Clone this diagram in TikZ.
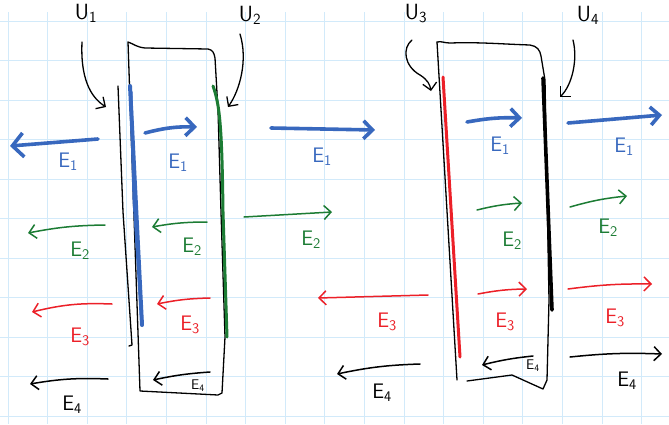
\documentclass[tikz,border=0pt]{standalone}
\usetikzlibrary{arrows.meta}
\definecolor{gridc}{RGB}{210,234,250}
\definecolor{pblue}{RGB}{56,104,190}
\definecolor{pgreen}{RGB}{28,124,52}
\definecolor{pred}{RGB}{236,32,40}
\begin{document}
\begin{tikzpicture}[x=1pt,y=-1pt,
  ink/.style={line width=1.3pt,line cap=round,line join=round},
  barb/.style={-{Straight Barb[length=7pt,width=14pt]}},
  bigbarb/.style={-{Straight Barb[length=11pt,width=24pt]}},
  midbarb/.style={-{Straight Barb[length=9pt,width=18pt]}},
  barrow/.style={pblue,line width=3.6pt,line cap=round,line join=round},
  garrow/.style={pgreen,line width=1.5pt,line cap=round,line join=round,barb},
  rarrow/.style={pred,line width=1.5pt,line cap=round,line join=round,barb},
  karrow/.style={black,line width=1.5pt,line cap=round,line join=round,barb},
  elab/.style={font=\sffamily\fontsize{21}{22}\selectfont,inner sep=0pt},
  slab/.style={font=\sffamily\fontsize{14}{15}\selectfont,inner sep=0pt},
  ulab/.style={font=\sffamily\fontsize{22}{24}\selectfont,inner sep=0pt,anchor=base}]
\useasboundingbox (0,0) rectangle (669,424);
\fill[white] (0,0) rectangle (669,424);
% grid paper
\foreach \i in {0,...,16} \draw[gridc,line width=0.9pt] ({8+39.6*\i},12) -- ({8+39.6*\i},424);
\foreach \j in {0,...,10} \draw[gridc,line width=0.9pt] (0,{21+39.5*\j}) -- (669,{21+39.5*\j});

% top labels
\node[ulab] (u1) at (86,19) {U\textsubscript{1}};
\node[ulab] (u2) at (250,21) {U\textsubscript{2}};
\node[ulab] (u3) at (416,19) {U\textsubscript{3}};
\node[ulab] (u4) at (588,21) {U\textsubscript{4}};

% left block
\draw[ink] (128,42) .. controls (134,44) and (136,47) .. (145,48) -- (208,49)
  .. controls (213,50) and (214,53) .. (215,58) -- (218,110) -- (221,212)
  -- (225,337) -- (222,393) -- (218,395) -- (140,391) -- cycle;
\draw[ink] (118,86) -- (123,212) -- (132,345) -- (129,346);
\draw[pblue,line width=4pt,line cap=round] (130,86) -- (142,325);
\draw[pblue,line width=3pt,line cap=round,line join=round] (131,92) -- (134,200) -- (142,325);
\draw[pgreen,line width=3pt,line cap=round] (213,86) .. controls (220,105) and (222,130) .. (223,212) -- (227,337);

% right block
\draw[ink] (437,42) -- (457,380);
\draw[ink] (437,42) .. controls (442,41) and (444,43) .. (450,43)
  .. controls (480,42) and (500,44) .. (530,45)
  .. controls (537,46) and (540,50) .. (541,56) -- (545,80) -- (549,300)
  -- (547,380) -- (543,389) -- (512,375) -- (467,381);
\draw[pred,line width=3pt,line cap=round] (443,77) -- (460,357);
\draw[line width=3.6pt,line cap=round] (543,78) -- (552,310);

% arrows from the labels
\draw[ink,barb] (82,42) .. controls (80,85) and (95,100) .. (106,107);
\draw[ink,barb] (240,34) .. controls (248,60) and (240,90) .. (228,107);
\draw[ink,barb] (412,40) .. controls (402,48) and (404,66) .. (420,75) .. controls (428,80) and (430,85) .. (431,91);
\draw[ink,barb] (573,40) .. controls (578,60) and (572,85) .. (560,97);

% E1 (blue)
\draw[barrow,bigbarb] (98,139) -- (10,146);
\draw[barrow,midbarb] (145,133) to[bend left=8] (197,127);
\draw[barrow,midbarb] (271,128) -- (375,130);
\draw[barrow,midbarb] (467,122) to[bend left=6] (522,118);
\draw[barrow,midbarb] (568,123) -- (662,115);
\node[elab,pblue] (e1a) at (68,162) {E\textsubscript{1}};
\node[elab,pblue] (e1b) at (178,163) {E\textsubscript{1}};
\node[elab,pblue] (e1c) at (322,157) {E\textsubscript{1}};
\node[elab,pblue] (e1d) at (500,146) {E\textsubscript{1}};
\node[elab,pblue] (e1e) at (624,147) {E\textsubscript{1}};

% E2 (green)
\draw[garrow] (105,225) to[bend right=5] (28,233);
\draw[garrow] (207,222) to[bend right=5] (152,227);
\draw[garrow] (244,217) -- (332,212);
\draw[garrow] (477,210) to[bend left=5] (522,203);
\draw[garrow] (570,207) to[bend left=5] (627,196);
\node[elab,pgreen] (e2a) at (80,251) {E\textsubscript{2}};
\node[elab,pgreen] (e2b) at (192,247) {E\textsubscript{2}};
\node[elab,pgreen] (e2c) at (311,240) {E\textsubscript{2}};
\node[elab,pgreen] (e2d) at (512,241) {E\textsubscript{2}};
\node[elab,pgreen] (e2e) at (608,228) {E\textsubscript{2}};

% E3 (red)
\draw[rarrow] (112,304) to[bend right=8] (32,312);
\draw[rarrow] (210,298) to[bend right=5] (157,304);
\draw[rarrow] (428,295) -- (318,298);
\draw[rarrow] (478,294) to[bend left=5] (527,289);
\draw[rarrow] (568,289) to[bend left=4] (652,284);
\node[elab,pred] (e3a) at (80,337) {E\textsubscript{3}};
\node[elab,pred] (e3b) at (190,325) {E\textsubscript{3}};
\node[elab,pred] (e3c) at (387,322) {E\textsubscript{3}};
\node[elab,pred] (e3d) at (505,322) {E\textsubscript{3}};
\node[elab,pred] (e3e) at (615,318) {E\textsubscript{3}};

% E4 (black)
\draw[karrow] (108,379) to[bend right=6] (30,384);
\draw[karrow] (210,372) to[bend right=4] (153,380);
\draw[karrow] (420,364) to[bend right=5] (337,374);
\draw[karrow] (533,356) to[bend right=4] (482,365);
\draw[karrow] (570,357) to[bend left=4] (662,354);
\node[elab] (e4a) at (72,405) {E\textsubscript{4}};
\node[slab] (e4b) at (198,386) {E\textsubscript{4}};
\node[elab] (e4c) at (382,393) {E\textsubscript{4}};
\node[slab] (e4d) at (533,366) {E\textsubscript{4}};
\node[elab] (e4e) at (627,381) {E\textsubscript{4}};
\end{tikzpicture}
\end{document}
